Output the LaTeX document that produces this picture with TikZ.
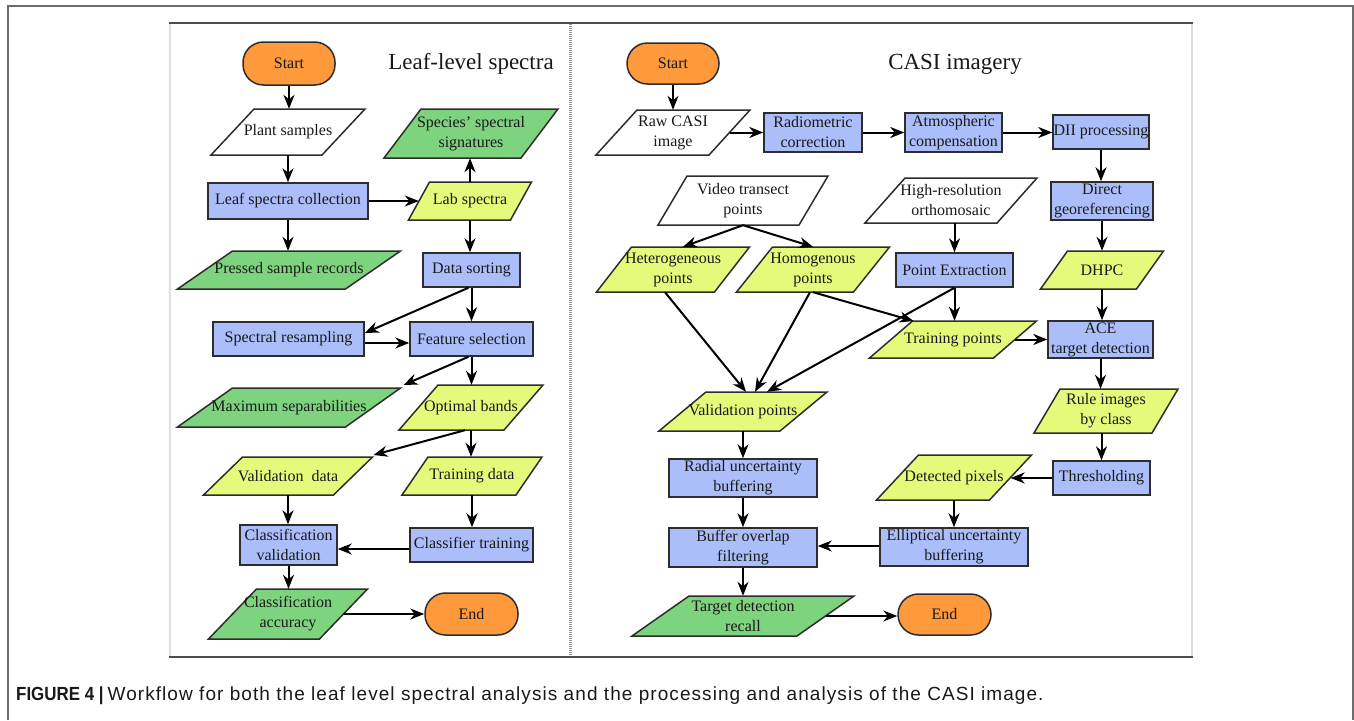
\documentclass[tikz,border=0pt]{standalone}
\usepackage{fontspec}
\setmainfont{Liberation Serif}
\newfontfamily\capfont[LetterSpace=5.6]{Liberation Sans}
\newfontfamily\capbold[FakeStretch=0.89]{Liberation Sans}
\usetikzlibrary{arrows.meta,calc}
\definecolor{cOrange}{RGB}{255,154,60}
\definecolor{cBlue}{RGB}{171,190,250}
\definecolor{cYellow}{RGB}{229,250,122}
\definecolor{cGreen}{RGB}{126,211,126}
\definecolor{cEdge}{RGB}{45,45,45}
\definecolor{cText}{RGB}{25,25,25}
\tikzset{
  boxtxt/.style={font=\fontsize{16}{20}\selectfont, text=cText, align=center, inner sep=0pt},
  rbox/.style={boxtxt, draw=cEdge, line width=1.5pt, fill=cBlue},
  term/.style={boxtxt, draw=cEdge, line width=1.5pt, fill=cOrange, rounded corners=20.5pt},
  ptext/.style={boxtxt},
  pshape/.style={draw=cEdge, line width=1.5pt, line join=miter},
  arr/.style={line width=2pt, black, -{Stealth[length=14pt,width=11pt,inset=4.5pt]}},
  ttl/.style={font=\fontsize{23}{26}\selectfont, text=cText, inner sep=0pt}
}
% name, cx, cy, w, h, slant, fill, text
\newcommand{\pgm}[8]{%
  \coordinate (#1-tl) at ({#2-#4/2+#6/2},{#3-#5/2});
  \coordinate (#1-tr) at ({#2+#4/2+#6/2},{#3-#5/2});
  \coordinate (#1-br) at ({#2+#4/2-#6/2},{#3+#5/2});
  \coordinate (#1-bl) at ({#2-#4/2-#6/2},{#3+#5/2});
  \filldraw[pshape, fill=#7] (#1-tl) -- (#1-tr) -- (#1-br) -- (#1-bl) -- cycle;
  \node[ptext, minimum width=#4pt, minimum height=#5pt] (#1) at (#2,#3) {#8};
}
\begin{document}
\begin{tikzpicture}[x=1pt,y=-1pt]
\useasboundingbox[fill=white] (0,0) rectangle (1354,720);
% outer frame
\draw[gray!85!black, line width=2pt] (8,720) -- (8,6) -- (1353,6) -- (1353,720);
% panel frame
\draw[gray!25, line width=2pt] (170,23) -- (170,657);
\draw[gray!25, line width=2pt] (1192,23) -- (1192,657);
\draw[black!70, line width=2pt] (169,23) -- (1193,23);
\draw[black!70, line width=2pt] (169,657) -- (1193,657);
\draw[gray!80, line width=3pt, dash pattern=on 1pt off 1pt] (570,24) -- (570,656);

% ---------------- left panel ----------------
\node[ttl] (tL) at (471,64) {Leaf-level spectra};
\node[term, minimum width=92pt, minimum height=43pt] (sL) at (289,63.5) {Start};
\pgm{ps}{288}{132}{111}{46}{43}{white}{Plant samples}
\pgm{sp}{471}{133.5}{137}{49}{37}{cGreen}{Species' spectral\\signatures}
\node[rbox, minimum width=160pt, minimum height=36pt] (lsc) at (288,201) {Leaf spectra collection};
\pgm{lab}{470}{201}{102}{38}{21}{cYellow}{Lab spectra}
\pgm{psr}{289}{270}{168}{38}{55}{cGreen}{Pressed sample records}
\node[rbox, minimum width=97pt, minimum height=34pt] (ds) at (471.5,270) {Data sorting};
\node[rbox, minimum width=151pt, minimum height=34pt] (sr) at (288.5,339) {Spectral resampling};
\node[rbox, minimum width=123pt, minimum height=34pt] (fs) at (471.5,339) {Feature selection};
\pgm{ms}{289}{407.5}{168}{39}{55}{cGreen}{Maximum separabilities}
\pgm{ob}{471}{407.5}{105}{45}{39}{cYellow}{Optimal bands}
\pgm{vd}{288}{476}{130}{38}{39}{cYellow}{Validation\ \ data}
\pgm{td}{472}{476}{114}{38}{26}{cYellow}{Training data}
\node[rbox, minimum width=97pt, minimum height=40pt] (cv) at (288.5,545) {Classification\\validation};
\node[rbox, minimum width=123pt, minimum height=34pt] (ct) at (471.5,545) {Classifier training};
\pgm{ca}{288}{614}{111}{50}{48}{cGreen}{Classification\\accuracy}
\node[term, minimum width=93pt, minimum height=42pt] (eL) at (471.5,614) {End};

\draw[arr] (sL.south) -- (sL.south |- ps.north);
\draw[arr] (ps.south) -- (ps.south |- lsc.north);
\draw[arr] (lsc.south) -- (lsc.south |- psr.north);
\draw[arr] (lsc.east) -- (lab.west);
\draw[arr] (lab.north) -- (lab.north |- sp.south);
\draw[arr] (lab.south) -- (lab.south |- ds.north);
\draw[arr] (ds.south) -- (ds.south |- fs.north);
\draw[arr] ([xshift=-3pt]ds.south) -- ([yshift=6pt]sr.east);
\draw[arr] ([yshift=-4pt]sr.east) -- ([yshift=-4pt]fs.west);
\draw[arr] ([xshift=-3pt]fs.south) -- ([xshift=3pt,yshift=3pt]ms-tr);
\draw[arr] (fs.south) -- (fs.south |- ob.north);
\draw[arr] (ob.south) -- (ob.south |- td.north);
\draw[arr] ([xshift=-6pt]ob.south) -- ([xshift=1pt,yshift=2pt]vd-tr);
\draw[arr] (vd.south) -- (vd.south |- cv.north);
\draw[arr] (td.south) -- (td.south |- ct.north);
\draw[arr] ([yshift=-4pt]ct.west) -- ([yshift=-4pt]cv.east);
\draw[arr] (cv.south) -- (cv.south |- ca.north);
\draw[arr] (ca.east) -- (ca.east -| eL.west);

% ---------------- right panel ----------------
\node[ttl] (tR) at (955,64) {CASI imagery};
\node[term, minimum width=92pt, minimum height=41pt] (sR) at (673,63.5) {Start};
\pgm{raw}{673}{132.5}{113}{45}{41}{white}{Raw CASI\\image}
\node[rbox, minimum width=98pt, minimum height=39pt] (rc) at (813,132.5) {Radiometric\\correction};
\node[rbox, minimum width=97pt, minimum height=39pt] (ac) at (953.5,132.5) {Atmospheric\\compensation};
\node[rbox, minimum width=96pt, minimum height=34pt] (dii) at (1101,132) {DII processing};
\pgm{vt}{743}{200.5}{141}{49}{29}{white}{Video transect\\points}
\pgm{hr}{951}{200.5}{132}{45}{40}{white}{High-resolution\\orthomosaic}
\node[rbox, minimum width=102pt, minimum height=38pt] (dg) at (1102,201) {Direct\\georeferencing};
\pgm{het}{673}{269.5}{118}{45}{35}{cYellow}{Heterogeneous\\points}
\pgm{hom}{813}{269.5}{117}{45}{36}{cYellow}{Homogenous\\points}
\node[rbox, minimum width=117pt, minimum height=34pt] (pe) at (954.5,270) {Point Extraction};
\pgm{dhpc}{1102}{270}{96}{38}{27}{cYellow}{DHPC}
\pgm{tp}{953}{339.5}{124}{37}{43}{cYellow}{Training points}
\node[rbox, minimum width=105pt, minimum height=37pt] (ace) at (1100.5,339.5) {ACE\\target detection};
\pgm{vp}{743}{411.5}{121}{39}{47}{cYellow}{Validation points}
\pgm{rule}{1106}{411}{118}{44}{26}{cYellow}{Rule images\\by class}
\node[rbox, minimum width=148pt, minimum height=38pt] (rub) at (743,478) {Radial uncertainty\\buffering};
\pgm{dp}{954}{477.5}{113}{45}{42}{cYellow}{Detected pixels}
\node[rbox, minimum width=97pt, minimum height=34pt] (th) at (1101.5,478) {Thresholding};
\node[rbox, minimum width=148pt, minimum height=39pt] (bof) at (743,547.5) {Buffer overlap\\filtering};
\node[rbox, minimum width=148pt, minimum height=38pt] (eub) at (954,547) {Elliptical uncertainty\\buffering};
\pgm{trc}{743}{616}{165}{40}{57}{cGreen}{Target detection\\recall}
\node[term, minimum width=93pt, minimum height=41pt] (eR) at (944.5,614.5) {End};

\draw[arr] (sR.south) -- (sR.south |- raw.north);
\draw[arr] (raw.east) -- (raw.east -| rc.west);
\draw[arr] (rc.east) -- (rc.east -| ac.west);
\draw[arr] (ac.east) -- (ac.east -| dii.west);
\draw[arr] (dii.south) -- (dii.south |- dg.north);
\draw[arr] (dg.south) -- (dg.south |- dhpc.north);
\draw[arr] (dhpc.south) -- (dhpc.south |- ace.north);
\draw[arr] (ace.south) -- (ace.south |- rule.north);
\draw[arr] (rule.south -| th.north) -- (th.north);
\draw[arr] (th.west) -- (th.west -| dp.east);
\draw[arr] (dp.south) -- (dp.south |- eub.north);
\draw[arr] ([yshift=1pt]eub.west) -- ([yshift=1pt]eub.west -| bof.east);
\draw[arr] (vt.south) -- ([xshift=10pt]het.north);
\draw[arr] (vt.south) -- (hom.north);
\draw[arr] (hr.south -| pe.north) -- (pe.north);
\draw[arr] (pe.south) -- (pe.south |- tp.north);
\draw[arr] (tp.east) -- (tp.east -| ace.west);
\draw[arr] ([xshift=-8pt]het.south) -- ([xshift=3pt]vp.north);
\draw[arr] ([xshift=-3pt]hom.south) -- ([xshift=12pt]vp.north);
\draw[arr] (pe.south) -- ([xshift=24pt]vp.north);
\draw[arr] (hom.south) -- ([xshift=1pt]tp-tl);
\draw[arr] (vp.south) -- (vp.south |- rub.north);
\draw[arr] (rub.south) -- (bof.north);
\draw[arr] (bof.south) -- (bof.south |- trc.north);
\draw[arr] (trc.east) -- (trc.east -| eR.west);

% caption
\node[anchor=west, inner sep=0pt, text=cText] (cap) at (16,696)
  {{\capbold\fontsize{19}{22}\selectfont\bfseries FIGURE 4 |}\hspace{4pt}{\capfont\fontsize{19}{22}\selectfont Workflow for both the leaf level spectral analysis and the processing and analysis of the CASI image.}};
\end{tikzpicture}
\end{document}
